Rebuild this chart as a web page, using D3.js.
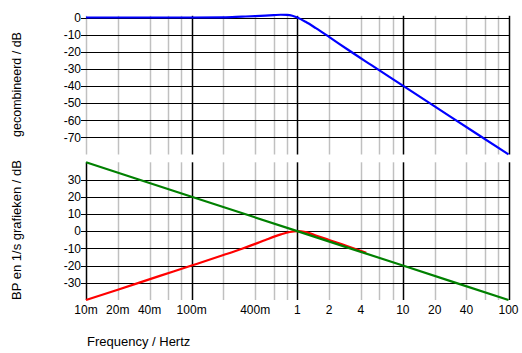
<!DOCTYPE html>
<html>
<head>
<meta charset="utf-8">
<script src="https://cdn.jsdelivr.net/npm/d3@7"></script>
<style>
  body { margin: 0; background: #fff; }
  svg { display: block; font-family: "Liberation Sans", Arial, sans-serif; }
</style>
</head>
<body>
<div id="chart"></div>
<script>
// frequencies in Hz, levels in dB
var blueFreq = [0.01, 0.1, 0.2, 0.3, 0.4, 0.5, 0.6, 0.7, 0.8, 0.9, 1.0, 1.2, 1.5, 2, 3, 5, 10, 20, 50, 100];
var blueDb   = [0, 0, 0.1, 0.5, 0.8, 1.1, 1.4, 1.6, 1.5, 1.0, 0, -2.5, -6.2, -11.3, -18.7, -27.7, -39.8, -51.9, -67.9, -79.9];

var redFreq = [0.01, 0.02, 0.05, 0.1, 0.2, 0.3, 0.4, 0.5, 0.7, 0.85, 1, 1.2, 1.5, 2, 3, 4.5];
var redDb   = [-40, -34, -26, -20, -13.9, -10.2, -7.4, -5.1, -1.9, -0.5, 0, -0.6, -2.5, -5.1, -8.8, -12.5];

var greenFreq = [0.01, 0.1, 1, 10, 100];
var greenDb   = [40, 20, 0, -20, -40];

var topTicks = [0, -10, -20, -30, -40, -50, -60, -70];
var bottomTicks = [30, 20, 10, 0, -10, -20, -30];
var xTickValues = [0.01, 0.02, 0.04, 0.1, 0.4, 1, 2, 4, 10, 20, 40, 100];
var xTickLabels = ["10m", "20m", "40m", "100m", "400m", "1", "2", "4", "10", "20", "40", "100"];
var decades = [0.01, 0.1, 1, 10];
var majorLines = [0.1, 1, 10, 100];

var width = 522, height = 353;

var svg = d3.select("#chart").append("svg")
    .attr("width", width)
    .attr("height", height);

var x = d3.scaleLog().domain([0.01, 100]).range([86, 508.5]);
var yTop = d3.scaleLinear().domain([-80, 1]).range([154.5, 15.8]);
var yBot = d3.scaleLinear().domain([-40, 40]).range([300, 162.3]);

var minorLines = [];
decades.forEach(function (d) {
    [2, 4, 6, 8].forEach(function (m) { minorLines.push(d * m); });
});

function panel(y, ticks, leftColor) {
    var g = svg.append("g");
    var y0 = y.range()[0], y1 = y.range()[1];

    g.selectAll(".minor")
        .data(minorLines.concat([0.01]))
        .enter().append("line")
        .attr("x1", function (d) { return Math.round(x(d)) + 0.5; })
        .attr("x2", function (d) { return Math.round(x(d)) + 0.5; })
        .attr("y1", y1).attr("y2", y0)
        .attr("stroke", function (d) { return d === 0.01 ? leftColor : "#c0c0c0"; })
        .attr("stroke-width", 1.5);

    g.selectAll(".major")
        .data(majorLines)
        .enter().append("line")
        .attr("x1", function (d) { return Math.round(x(d)) + 0.5; })
        .attr("x2", function (d) { return Math.round(x(d)) + 0.5; })
        .attr("y1", y1).attr("y2", y0)
        .attr("stroke", "#000")
        .attr("stroke-width", 1.5);

    g.selectAll(".hline")
        .data(ticks)
        .enter().append("line")
        .attr("x1", 81).attr("x2", 509)
        .attr("y1", function (d) { return Math.round(y(d)) + 0.5; })
        .attr("y2", function (d) { return Math.round(y(d)) + 0.5; })
        .attr("stroke", "#000")
        .attr("stroke-width", 1.2);

    g.selectAll(".ylab")
        .data(ticks)
        .enter().append("text")
        .attr("x", 81)
        .attr("y", function (d) { return y(d); })
        .attr("dy", "0.36em")
        .attr("text-anchor", "end")
        .attr("font-size", 12)
        .text(function (d) { return d; });
    return g;
}

panel(yTop, topTicks, "#c0c0c0");
panel(yBot, bottomTicks, "#000");

function drawLine(freq, db, y, color) {
    var pts = freq.map(function (f, i) { return [f, db[i]]; });
    var line = d3.line()
        .x(function (d) { return x(d[0]); })
        .y(function (d) { return y(d[1]); })
        .curve(d3.curveMonotoneX);
    svg.append("path")
        .datum(pts)
        .attr("d", line)
        .attr("fill", "none")
        .attr("stroke", color)
        .attr("stroke-width", 2.2);
}

drawLine(blueFreq, blueDb, yTop, "#0000ff");
drawLine(redFreq, redDb, yBot, "#ff0000");
drawLine(greenFreq, greenDb, yBot, "#008000");

svg.selectAll(".xlab")
    .data(xTickValues)
    .enter().append("text")
    .attr("x", function (d) { return x(d); })
    .attr("y", 313.5)
    .attr("text-anchor", "middle")
    .attr("font-size", 12)
    .text(function (d, i) { return xTickLabels[i]; });

svg.append("text")
    .attr("x", 87)
    .attr("y", 346)
    .attr("font-size", 13)
    .text("Frequency / Hertz");

svg.append("text")
    .attr("transform", "translate(21," + 84.5 + ") rotate(-90)")
    .attr("text-anchor", "middle")
    .attr("font-size", 12.5)
    .text("gecombineerd / dB");

svg.append("text")
    .attr("transform", "translate(20.5," + 230 + ") rotate(-90)")
    .attr("text-anchor", "middle")
    .attr("font-size", 13)
    .text("BP en 1/s grafieken / dB");
</script>
</body>
</html>
